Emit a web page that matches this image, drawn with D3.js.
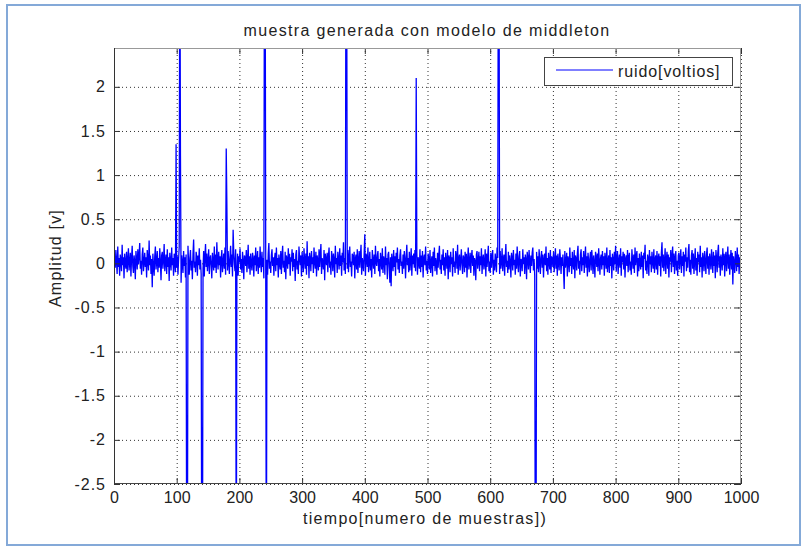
<!DOCTYPE html>
<html>
<head>
<meta charset="utf-8">
<script src="https://cdn.jsdelivr.net/npm/d3@7"></script>
<style>
  body { margin: 0; background: #fff; }
  svg text { font-family: "Liberation Sans", Arial, sans-serif; fill: #222; }
</style>
</head>
<body>
<div id="chart"></div>
<script>
// ruido base (voltios), muestras 1..1000
let ruido = [
  .08,-.05,.15,.02,-.12,.19,-.04,.06,-.14,.10, .03,-.09,.21,-.02,.07,-.17,.11,.00,-.06,.13,
  -.10,.04,.17,-.08,.01,.12,-.15,.06,.20,-.03, -.11,.09,.02,-.18,.14,.05,-.07,.16,-.01,.08,
  .23,-.06,.03,-.13,.10,.18,-.09,.01,.12,-.04, .07,-.16,.15,.04,-.08,.26,-.02,.09,-.12,.05,
  -.27,.11,-.03,-.14,.08,.19,-.07,.02,.14,-.10, .06,-.05,.17,.01,-.19,.09,.13,-.06,.04,.22,
  -.09,.02,.10,-.12,.16,-.04,.07,-.20,.12,.03, -.08,.18,-.02,.06,-.14,.11,.01,-.10,.15,-.05,
  .08,-.13,.04,.19,-.06,.12,-.22,.09,.01,-.11, .14,-.03,.07,-.16,.10,.05,-.09,.20,-.01,-.13,
  .06,.15,-.08,.03,-.18,.11,.27,-.05,.02,-.10, .13,.07,-.14,.09,-.02,.17,-.07,.04,-.12,.10,
  .01,-.06,.14,-.15,.08,.22,-.04,.11,-.09,.03, .16,-.12,.05,.09,-.03,-.17,.12,.02,-.08,.19,
  -.05,.10,-.11,.24,.03,-.07,.13,-.02,.08,-.16, .06,.15,-.10,.01,.11,-.06,.18,-.13,.04,.09,
  -.08,.14,.02,-.12,.07,.20,-.04,.10,-.15,.05, .12,-.01,-.09,.16,.03,-.06,.11,-.14,.08,.01,
  .17,-.07,.05,-.11,.13,.02,-.18,.09,.06,-.03, .15,-.10,.04,.21,-.06,.08,-.13,.11,.00,-.08,
  .12,.05,-.15,.09,-.02,.18,-.09,.03,.14,-.12, .07,-.05,.19,.01,-.10,.13,-.04,.06,-.17,.10,
  .03,-.08,.15,.04,-.13,.11,.23,-.06,.02,-.11, .09,.16,-.03,.07,-.14,.05,.12,-.09,.18,-.02,
  .06,-.16,.10,.01,-.07,.14,-.12,.08,.20,-.05, .03,-.10,.13,-.18,.09,.04,-.06,.17,-.01,.11,
  -.14,.07,.02,.16,-.09,.12,-.04,.05,-.20,.10, .15,-.07,.03,-.12,.19,.06,-.02,.09,-.15,.13,
  .01,-.10,.17,.04,-.06,.11,-.13,.25,-.03,.08, -.17,.12,.05,-.09,.14,-.01,.07,-.11,.18,.02,
  -.06,.13,-.15,.09,.03,-.08,.16,-.04,.10,.22, -.12,.06,.01,-.07,.15,-.19,.11,.04,-.02,.12,
  -.10,.08,.18,-.05,.02,-.13,.14,.07,-.09,.11, .03,-.16,.20,-.01,.06,-.11,.13,.05,-.07,.17,
  -.03,.09,-.14,.12,.01,.24,-.08,.06,-.12,.10, .04,-.06,.15,-.10,.07,.19,-.04,.02,-.15,.11,
  .08,-.02,.13,-.17,.05,.10,-.07,.16,-.11,.03, .14,-.05,.09,.21,-.13,.06,.00,-.09,.12,.04,
  -.14,.11,.07,-.04,.18,-.10,.02,.13,-.08,.05, -.16,.15,.03,-.06,.10,-.12,.20,.01,-.03,.09,
  .14,-.09,.05,-.15,.12,.02,-.07,.17,-.11,.08, .04,-.13,.19,-.02,.06,-.18,.10,.13,-.05,-.22,
  .07,-.26,.11,.03,-.09,.15,-.04,.08,-.14,.12, .01,.18,-.07,.05,-.11,.09,.16,-.03,.02,-.12,
  .10,-.06,.14,.04,-.17,.08,.21,-.02,.06,-.10, .13,-.08,.03,.17,-.14,.09,-.01,.11,-.05,.15,
  -.09,.05,.12,-.13,.07,.02,-.06,.16,-.10,.09, -.04,.14,-.16,.06,.10,-.02,.19,-.08,.03,-.12,
  .11,.05,-.07,.15,-.11,.02,.08,-.15,.13,-.03, .18,-.09,.06,.01,-.13,.12,-.05,.09,.20,-.07,
  .04,-.12,.10,-.02,.16,-.08,.07,-.14,.12,.03, -.06,.15,-.18,.09,.05,-.10,.13,-.01,.07,-.15,
  .17,-.04,.02,-.11,.14,.08,-.06,.21,-.13,.05, .10,-.08,.03,.16,-.02,-.12,.09,.06,-.10,.13,
  -.05,.11,-.16,.04,.18,-.07,.01,.12,-.11,.07, .15,-.03,.09,-.14,.06,.02,-.19,.10,.14,-.06,
  .03,.13,-.09,.08,-.02,.17,-.12,.05,.10,-.07, .01,.16,-.15,.11,-.04,.07,.20,-.09,.02,-.11,
  .12,-.05,.08,.15,-.13,.04,-.08,.11,.02,-.10, .18,.06,-.03,.09,-.12,.14,-.06,.01,.17,-.09,
  .05,.10,-.14,.07,.22,-.04,.03,-.11,.13,-.07, .09,.02,-.16,.12,.06,-.08,.15,-.02,.04,-.13,
  .11,-.06,.19,.01,-.10,.08,.14,-.15,.05,.03, -.09,.16,-.01,.07,-.12,.10,.04,-.18,.13,.06,
  -.07,.15,.02,-.11,.09,-.03,.12,.18,-.08,.05, -.14,.10,.01,.13,-.06,.08,-.10,.16,.03,-.12,
  .07,.14,-.05,.10,-.16,.04,.11,-.02,.19,-.09, .06,-.13,.12,.02,-.07,.15,-.11,.08,.05,-.04,
  .13,-.10,.03,.17,-.06,.09,-.14,.11,.01,-.08, .16,.05,-.12,.07,-.03,.10,-.09,-.29,.14,-.05,
  .02,.12,-.15,.08,.04,-.10,.18,-.03,.06,-.12, .13,.00,-.07,.15,-.17,.09,.05,-.08,.11,.20,
  -.06,.03,-.13,.10,.16,-.09,.07,-.02,.14,-.11, .05,.19,-.05,.08,-.15,.12,.02,-.10,.06,.13,
  -.08,.15,.04,-.12,.09,.01,-.16,.13,.07,-.04, .11,-.09,.17,.03,-.13,.06,.10,-.07,.14,-.02,
  .08,-.14,.12,.05,-.06,.18,-.10,.02,.09,-.11, .15,-.03,.07,-.17,.11,.04,-.08,.13,-.01,.20,
  -.09,.06,.14,-.12,.03,.10,-.05,.17,-.14,.08, .01,.13,-.07,.11,-.16,.05,.09,-.03,.15,-.10,
  .07,.12,-.08,.02,-.13,.16,.04,-.06,.10,-.11, .18,-.02,.08,.14,-.15,.06,-.09,.11,.01,-.07,
  .13,-.04,.09,-.17,.12,.05,.21,-.08,.03,-.12, .10,.06,-.14,.15,-.01,.08,-.10,.13,.02,-.06,
  .16,-.11,.04,.09,-.07,.14,-.13,.06,.11,-.03, .08,-.15,.12,.24,-.05,.10,-.09,.03,.17,-.12,
  .05,.13,-.06,.10,-.16,.07,.02,.15,-.10,.08, .19,-.04,.11,-.12,.06,.14,-.08,.03,-.14,.09,
  .12,-.07,.05,.16,-.11,.08,-.03,.13,-.15,.10, .02,.18,-.09,.07,-.05,.14,.22,-.10,.04,-.13,
  .09,.15,-.06,.11,-.12,.03,.17,-.08,.06,-.14, .13,.01,.10,-.10,.20,-.04,.07,-.16,.12,.05,
  -.09,.14,.03,-.12,.10,.18,-.06,.08,-.13,.11, .04,-.07,.16,.02,-.11,.13,-.03,.09,-.17,.15,
  .06,-.10,.12,.21,-.05,.08,-.14,.10,.03,-.08, .17,-.02,.11,-.15,.07,.13,-.09,.05,.19,-.06,
  .10,-.13,.04,.15,-.07,.12,-.24,.08,.01,-.11, .14,.06,-.09,.18,-.04,.10,-.12,.07,.02,.09
];

// impulsos del modelo de middleton: [muestra, valor]
let picos = [
  [99, 1.35], [105, 4], [106, 1.22], [116, -4], [117, -4], [140, -4], [141, -4],
  [179, 1.3], [180, 0.68], [190, 0.38], [195, -4], [240, 4], [241, 4], [243, -4],
  [370, 4], [371, 4], [400, 0.33], [482, 2.1], [613, 4], [614, 4], [672, -4], [673, -4]
];

let xTicks = [0, 100, 200, 300, 400, 500, 600, 700, 800, 900, 1000];
let yTicks = [-2.5, -2, -1.5, -1, -0.5, 0, 0.5, 1, 1.5, 2];

let svgWidth = 810;
let svgHeight = 550;
let margin = { top: 48, right: 69, bottom: 66, left: 114 };
let width = svgWidth - margin.left - margin.right;
let height = svgHeight - margin.top - margin.bottom;

let svg = d3.select("#chart")
  .append("svg")
  .attr("width", svgWidth)
  .attr("height", svgHeight);

// marco exterior azul
svg.append("rect")
  .attr("x", 7).attr("y", 5)
  .attr("width", 793).attr("height", 540)
  .attr("fill", "none")
  .attr("stroke", "#84a9d8")
  .attr("stroke-width", 2);

let chartGroup = svg.append("g")
  .attr("transform", `translate(${margin.left}, ${margin.top})`);

let xScale = d3.scaleLinear().domain([0, 1000]).range([0, width]);
let yScale = d3.scaleLinear().domain([-2.5, 2.44]).range([height, 0]);

// build the series from the arrays
let serie = ruido.map((v, i) => ({ x: i + 1, y: v }));
picos.forEach(p => { serie[p[0] - 1].y = p[1]; });

// grid
chartGroup.append("g")
  .attr("class", "grid")
  .attr("transform", `translate(0, ${height})`)
  .call(d3.axisBottom(xScale).tickValues(xTicks).tickSize(-height).tickFormat(""));
chartGroup.append("g")
  .attr("class", "grid")
  .call(d3.axisLeft(yScale).tickValues(yTicks).tickSize(-width).tickFormat(""));
chartGroup.selectAll(".grid .domain").remove();
chartGroup.selectAll(".grid line")
  .attr("stroke", "#333")
  .attr("stroke-dasharray", "1,3");

// clip
svg.append("defs").append("clipPath").attr("id", "clip")
  .append("rect").attr("width", width).attr("height", height);

let line = d3.line()
  .x(d => xScale(d.x))
  .y(d => yScale(d.y));

chartGroup.append("path")
  .datum(serie)
  .attr("clip-path", "url(#clip)")
  .attr("fill", "none")
  .attr("stroke", "#0000ff")
  .attr("stroke-width", 1.3)
  .attr("d", line);

// axes, ticks inside
let fmt = d => String(d);
let xAxis = chartGroup.append("g")
  .attr("transform", `translate(0, ${height})`)
  .call(d3.axisBottom(xScale).tickValues(xTicks).tickSize(-6).tickPadding(8).tickFormat(fmt));
let xTop = chartGroup.append("g")
  .call(d3.axisTop(xScale).tickValues(xTicks).tickSize(-6).tickFormat(""));
let yAxis = chartGroup.append("g")
  .call(d3.axisLeft(yScale).tickValues(yTicks).tickSize(-6).tickPadding(8).tickFormat(fmt));
let yRight = chartGroup.append("g")
  .attr("transform", `translate(${width}, 0)`)
  .call(d3.axisRight(yScale).tickValues(yTicks).tickSize(-6).tickFormat(""));

[xAxis, xTop, yAxis, yRight].forEach(a => {
  a.select(".domain").remove();
  a.selectAll("line").attr("stroke", "#333");
  a.selectAll("text").attr("font-size", 16).attr("fill", "#222");
});
yAxis.selectAll("text").attr("letter-spacing", 1);

// box
chartGroup.append("line").attr("x1", 0).attr("x2", width).attr("y1", 0.5).attr("y2", 0.5)
  .attr("stroke", "#999");
chartGroup.append("line").attr("x1", width - 0.5).attr("x2", width - 0.5).attr("y1", 0).attr("y2", height)
  .attr("stroke", "#999");
chartGroup.append("line").attr("x1", 0).attr("x2", width).attr("y1", height - 0.5).attr("y2", height - 0.5)
  .attr("stroke", "#444");
chartGroup.append("line").attr("x1", 0.5).attr("x2", 0.5).attr("y1", 0).attr("y2", height)
  .attr("stroke", "#333");

// title and labels
svg.append("text")
  .attr("x", 427).attr("y", 36)
  .attr("text-anchor", "middle")
  .attr("font-size", 16)
  .attr("letter-spacing", 1.35)
  .text("muestra generada con modelo de middleton");

svg.append("text")
  .attr("x", 425).attr("y", 524)
  .attr("text-anchor", "middle")
  .attr("font-size", 16)
  .attr("letter-spacing", 1.3)
  .text("tiempo[numero de muestras])");

svg.append("text")
  .attr("transform", "translate(61, 258) rotate(-90)")
  .attr("text-anchor", "middle")
  .attr("font-size", 16)
  .attr("letter-spacing", 1.2)
  .text("Amplitud [v]");

// legend
let legend = svg.append("g");
legend.append("rect")
  .attr("x", 544.5).attr("y", 57.5)
  .attr("width", 188).attr("height", 28)
  .attr("fill", "#fff")
  .attr("stroke", "#444");
legend.append("line")
  .attr("x1", 556).attr("x2", 613).attr("y1", 70).attr("y2", 70)
  .attr("stroke", "#0000ff").attr("stroke-width", 1);
legend.append("text")
  .attr("x", 618).attr("y", 77)
  .attr("font-size", 16)
  .attr("letter-spacing", 0.9)
  .text("ruido[voltios]");
</script>
</body>
</html>
